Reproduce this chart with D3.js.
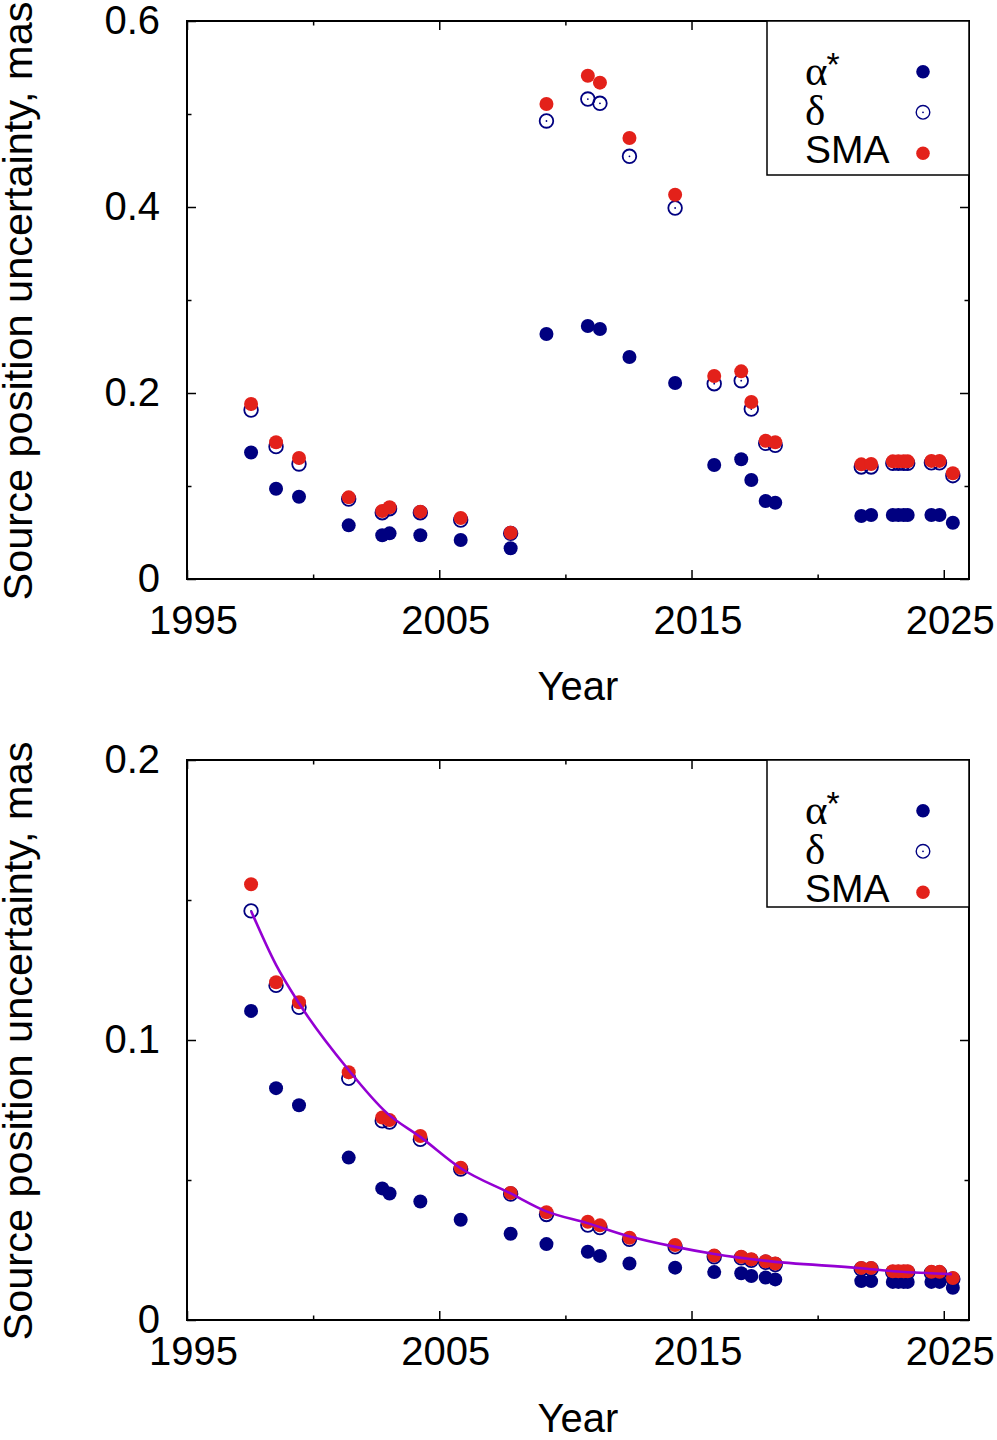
<!DOCTYPE html>
<html>
<head>
<meta charset="utf-8">
<script src="https://cdn.jsdelivr.net/npm/d3@7"></script>
<style>
  body { margin: 0; background: #fff; }
  svg { display: block; font-family: "Liberation Sans", Arial, sans-serif; }
</style>
</head>
<body>
<div id="chart"></div>
<script>
// epochs of the solutions (decimal year)
const years = [1997.54, 1998.53, 1999.44, 2001.41, 2002.74, 2003.03, 2004.25, 2005.85, 2007.83,
  2009.25, 2010.89, 2011.37, 2012.54, 2014.35, 2015.90, 2016.97, 2017.37, 2017.94, 2018.32,
  2021.73, 2022.12, 2022.98, 2023.20, 2023.41, 2023.57, 2024.51, 2024.83, 2025.36]

// upper panel, mas
const alphaTop = [0.136, 0.097, 0.0885, 0.0577, 0.047, 0.0491, 0.047, 0.0419, 0.033,
  0.2634, 0.272, 0.2688, 0.2387, 0.2108, 0.1226, 0.1287, 0.1065, 0.0839, 0.082,
  0.0677, 0.0688, 0.0688, 0.0688, 0.0688, 0.0688, 0.0688, 0.0688, 0.0605]
const deltaTop = [0.1817, 0.1423, 0.1237, 0.086, 0.0713, 0.0756, 0.0713, 0.0634, 0.0491,
  0.4925, 0.5161, 0.5115, 0.4545, 0.3989, 0.21, 0.2132, 0.1828, 0.1459, 0.1438,
  0.1205, 0.1205, 0.1245, 0.1245, 0.1245, 0.1245, 0.125, 0.125, 0.1111]
const smaTop = [0.1882, 0.147, 0.1301, 0.0878, 0.0731, 0.0771, 0.0724, 0.0656, 0.0498,
  0.5108, 0.5412, 0.5337, 0.4742, 0.4132, 0.2183, 0.2233, 0.1903, 0.1487, 0.147,
  0.1233, 0.1237, 0.1265, 0.1265, 0.1265, 0.1265, 0.127, 0.127, 0.1137]

// lower panel, mas
const alphaBottom = [0.1104, 0.0828, 0.0767, 0.058, 0.047, 0.0452, 0.0423, 0.0358, 0.0308,
  0.0271, 0.0244, 0.0229, 0.0202, 0.0187, 0.0171, 0.0167, 0.0157, 0.0152, 0.0145,
  0.0139, 0.0139, 0.0136, 0.0136, 0.0136, 0.0136, 0.0136, 0.0136, 0.0115]
const deltaBottom = [0.1461, 0.1195, 0.1117, 0.0863, 0.0711, 0.0707, 0.0645, 0.0539, 0.045,
  0.0377, 0.0339, 0.033, 0.0288, 0.0261, 0.0226, 0.0222, 0.0213, 0.0206, 0.0198,
  0.0182, 0.0182, 0.017, 0.017, 0.017, 0.017, 0.0168, 0.0168, 0.0146]
const smaBottom = [0.1556, 0.1206, 0.1135, 0.0885, 0.0723, 0.0714, 0.0657, 0.0544, 0.0454,
  0.0385, 0.0351, 0.0338, 0.0294, 0.0268, 0.023, 0.0226, 0.0217, 0.021, 0.0202,
  0.0186, 0.0186, 0.0174, 0.0174, 0.0174, 0.0174, 0.0172, 0.0172, 0.015]

// fitted curve in the lower panel
const fitYears = [1997.54, 1998.53, 1999.44, 2001.35, 2002.94, 2004.26, 2005.85, 2007.83, 2009.22,
  2010.87, 2012.52, 2014.31, 2015.90, 2017.88, 2021.72, 2023.17, 2025.32]
const fitValues = [0.1461, 0.1268, 0.1131, 0.0899, 0.0738, 0.0653, 0.0542, 0.0452, 0.0389,
  0.0346, 0.0299, 0.0262, 0.0236, 0.0212, 0.0185, 0.0173, 0.0164]

const xDomain = [1995, 2026]
const xMajorTicks = [1995, 2005, 2015, 2025]
const xMinorTicks = [2000, 2010, 2020]
const yTicksTop = [0, 0.2, 0.4, 0.6]
const yMinorTop = [0.1, 0.3, 0.5]
const yTicksBottom = [0, 0.1, 0.2]
const yMinorBottom = [0.05, 0.15]

const legendItems = [
  {label: "α", sup: "*", kind: "alpha"},
  {label: "δ", sup: "", kind: "delta"},
  {label: "SMA", sup: "", kind: "sma"}
]

const xLabel = "Year"
const yLabel = "Source position uncertainty, mas"

const navy = "#000080"
const red = "#e3211a"
const violet = "#9400d3"

const width = 997
const height = 1440
const left = 187
const right = 969

const svg = d3.select("#chart").append("svg")
  .attr("width", width)
  .attr("height", height)

function drawPanel(cfg) {
  const x = d3.scaleLinear().domain(xDomain).range([left, right])
  const y = d3.scaleLinear().domain([0, cfg.yMax]).range([cfg.bottom, cfg.top])
  const g = svg.append("g")
  const fmtY = d3.format("~g")

  const tickAxis = (axis, tx, ty, size, labels) => {
    const a = g.append("g")
      .attr("transform", `translate(${tx},${ty})`)
      .call(axis.tickSize(-size).tickFormat(labels || ""))
      .attr("font-family", null)
      .attr("font-size", 40)
    a.select(".domain").remove()
    a.selectAll(".tick line").attr("stroke-width", 1.5)
    return a
  }

  // bottom and top ticks
  tickAxis(d3.axisBottom(x).tickValues(xMajorTicks).tickPadding(cfg.xPad), 0, cfg.bottom, 9, d3.format("d"))
    .selectAll("text").attr("dx", 6)
  tickAxis(d3.axisBottom(x).tickValues(xMinorTicks), 0, cfg.bottom, 4.5)
  tickAxis(d3.axisTop(x).tickValues(xMajorTicks), 0, cfg.top, 9)
  tickAxis(d3.axisTop(x).tickValues(xMinorTicks), 0, cfg.top, 4.5)

  // left and right ticks
  tickAxis(d3.axisLeft(y).tickValues(cfg.yTicks).tickPadding(27), left, 0, 9, fmtY)
  tickAxis(d3.axisLeft(y).tickValues(cfg.yMinor), left, 0, 4.5)
  tickAxis(d3.axisRight(y).tickValues(cfg.yTicks), right, 0, 9)
  tickAxis(d3.axisRight(y).tickValues(cfg.yMinor), right, 0, 4.5)

  // frame
  g.append("rect")
    .attr("x", left).attr("y", cfg.top)
    .attr("width", right - left).attr("height", cfg.bottom - cfg.top)
    .attr("fill", "none").attr("stroke", "#000").attr("stroke-width", 2)

  // axis titles
  g.append("text")
    .attr("x", (left + right) / 2).attr("y", cfg.yearBaseline)
    .attr("text-anchor", "middle").attr("font-size", 40)
    .text(xLabel)
  g.append("text")
    .attr("transform", `translate(32,${(cfg.top + cfg.bottom) / 2 + 1}) rotate(-90)`)
    .attr("text-anchor", "middle").attr("font-size", 41.5)
    .text(yLabel)

  // legend box
  const legH = cfg.legendHeight
  g.append("rect")
    .attr("x", 767).attr("y", cfg.top)
    .attr("width", right - 767).attr("height", legH)
    .attr("fill", "#fff").attr("stroke", "#000").attr("stroke-width", 1.5)

  const rowY = [50.7, 91.3, 132.3]
  legendItems.forEach((item, i) => {
    const cy = cfg.top + rowY[i]
    const serif = item.kind !== "sma"
    const t = g.append("text")
      .attr("x", 805).attr("y", cy + (serif ? 13 : 10))
      .attr("font-size", serif ? 43 : 39)
      .attr("font-family", serif ? "'Liberation Serif', 'Times New Roman', serif" : null)
      .text(item.label)
    if (item.sup) {
      t.append("tspan")
        .attr("font-family", "'Liberation Sans', Arial, sans-serif")
        .attr("font-size", 34)
        .attr("dx", -1)
        .attr("dy", -9)
        .text(item.sup)
    }
    marker(g, item.kind, 923, cy, 6.8, 1.4)
  })

  const pts = (vals) => vals.map((v, i) => ({year: years[i], value: v}))

  g.append("g").selectAll("circle")
    .data(pts(cfg.alpha)).join("circle")
    .attr("cx", d => x(d.year)).attr("cy", d => y(d.value))
    .attr("r", 7).attr("fill", navy)

  const dg = g.append("g").selectAll("g")
    .data(pts(cfg.delta)).join("g")
  dg.append("circle")
    .attr("cx", d => x(d.year)).attr("cy", d => y(d.value))
    .attr("r", 6.8).attr("fill", "none").attr("stroke", navy).attr("stroke-width", 1.8)
  dg.append("circle")
    .attr("cx", d => x(d.year)).attr("cy", d => y(d.value))
    .attr("r", 0.9).attr("fill", navy)

  g.append("g").selectAll("circle")
    .data(pts(cfg.sma)).join("circle")
    .attr("cx", d => x(d.year)).attr("cy", d => y(d.value))
    .attr("r", 7).attr("fill", red)

  if (cfg.fit) {
    const line = d3.line()
      .curve(d3.curveMonotoneX)
      .x(d => x(d.year))
      .y(d => y(d.value))
    g.append("path")
      .datum(cfg.fit.years.map((yr, i) => ({year: yr, value: cfg.fit.values[i]})))
      .attr("fill", "none")
      .attr("stroke", violet)
      .attr("stroke-width", 2.6)
      .attr("d", line)
  }
}

function marker(g, kind, cx, cy, r, sw) {
  if (kind === "delta") {
    g.append("circle").attr("cx", cx).attr("cy", cy).attr("r", r)
      .attr("fill", "none").attr("stroke", navy).attr("stroke-width", sw)
    g.append("circle").attr("cx", cx).attr("cy", cy).attr("r", 0.9).attr("fill", navy)
  } else {
    g.append("circle").attr("cx", cx).attr("cy", cy).attr("r", r)
      .attr("fill", kind === "sma" ? red : navy)
  }
}

drawPanel({
  top: 21, bottom: 579, yMax: 0.6,
  yTicks: yTicksTop, yMinor: yMinorTop,
  alpha: alphaTop, delta: deltaTop, sma: smaTop,
  xPad: 27, yearBaseline: 700, legendHeight: 154
})

drawPanel({
  top: 760, bottom: 1320, yMax: 0.2,
  yTicks: yTicksBottom, yMinor: yMinorBottom,
  alpha: alphaBottom, delta: deltaBottom, sma: smaBottom,
  fit: {years: fitYears, values: fitValues},
  xPad: 17, yearBaseline: 1432, legendHeight: 147
})
</script>
</body>
</html>
